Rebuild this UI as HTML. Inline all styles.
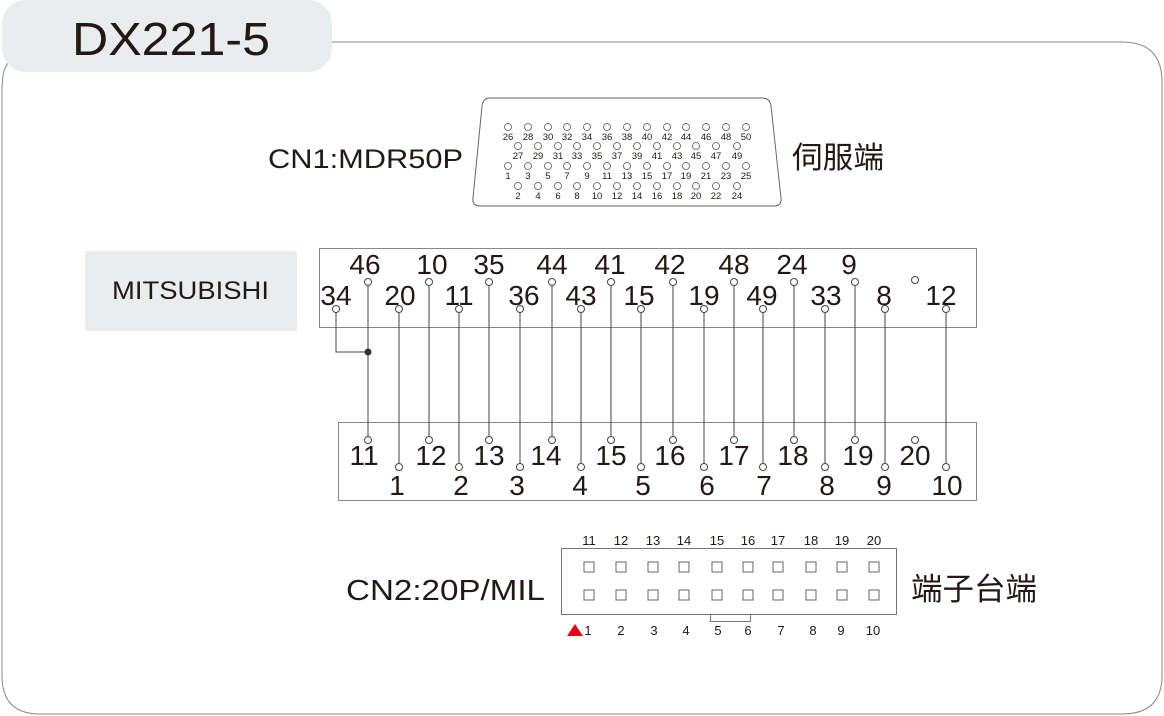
<!DOCTYPE html>
<html><head><meta charset="utf-8"><style>
html,body{margin:0;padding:0;background:#fff;}
svg{display:block;}
text{font-family:"Liberation Sans","Noto Sans CJK SC",sans-serif;fill:#231815;}
</style></head><body>
<svg width="1164" height="716" viewBox="0 0 1164 716" xmlns="http://www.w3.org/2000/svg">
<path d="M332,42 H1122 Q1162,42 1162,82 V676 Q1162,714 1122,714 H40 Q2,714 2,676 V90 Q2,66 10,62" fill="none" stroke="#888" stroke-width="1"/>
<rect x="2" y="0" width="330" height="72" rx="24" fill="#e9edee"/>
<text x="72" y="55" font-size="46" textLength="198" lengthAdjust="spacingAndGlyphs">DX221-5</text>

<text x="268" y="168" font-size="27" textLength="195" lengthAdjust="spacingAndGlyphs">CN1:MDR50P</text>
<text x="792" y="168" font-size="30" textLength="92" lengthAdjust="spacingAndGlyphs">伺服端</text>
<path d="M490,98 H762 Q770,98 771,106 L781,198 Q782,206 774,206 H480 Q472,206 473,198 L482,106 Q483,98 490,98 Z" fill="none" stroke="#666" stroke-width="1"/>
<g fill="none" stroke="#555" stroke-width="0.8">
<circle cx="508" cy="127" r="3.5"/><circle cx="528" cy="127" r="3.5"/><circle cx="548" cy="127" r="3.5"/><circle cx="567" cy="127" r="3.5"/><circle cx="587" cy="127" r="3.5"/><circle cx="607" cy="127" r="3.5"/><circle cx="627" cy="127" r="3.5"/><circle cx="647" cy="127" r="3.5"/><circle cx="667" cy="127" r="3.5"/><circle cx="686" cy="127" r="3.5"/><circle cx="706" cy="127" r="3.5"/><circle cx="726" cy="127" r="3.5"/><circle cx="746" cy="127" r="3.5"/>
<circle cx="518" cy="146" r="3.5"/><circle cx="538" cy="146" r="3.5"/><circle cx="558" cy="146" r="3.5"/><circle cx="577" cy="146" r="3.5"/><circle cx="597" cy="146" r="3.5"/><circle cx="617" cy="146" r="3.5"/><circle cx="637" cy="146" r="3.5"/><circle cx="657" cy="146" r="3.5"/><circle cx="677" cy="146" r="3.5"/><circle cx="696" cy="146" r="3.5"/><circle cx="716" cy="146" r="3.5"/><circle cx="737" cy="146" r="3.5"/>
<circle cx="508" cy="166" r="3.5"/><circle cx="528" cy="166" r="3.5"/><circle cx="548" cy="166" r="3.5"/><circle cx="567" cy="166" r="3.5"/><circle cx="587" cy="166" r="3.5"/><circle cx="607" cy="166" r="3.5"/><circle cx="627" cy="166" r="3.5"/><circle cx="647" cy="166" r="3.5"/><circle cx="667" cy="166" r="3.5"/><circle cx="686" cy="166" r="3.5"/><circle cx="706" cy="166" r="3.5"/><circle cx="726" cy="166" r="3.5"/><circle cx="746" cy="166" r="3.5"/>
<circle cx="518" cy="186" r="3.5"/><circle cx="538" cy="186" r="3.5"/><circle cx="558" cy="186" r="3.5"/><circle cx="577" cy="186" r="3.5"/><circle cx="597" cy="186" r="3.5"/><circle cx="617" cy="186" r="3.5"/><circle cx="637" cy="186" r="3.5"/><circle cx="657" cy="186" r="3.5"/><circle cx="677" cy="186" r="3.5"/><circle cx="696" cy="186" r="3.5"/><circle cx="716" cy="186" r="3.5"/><circle cx="737" cy="186" r="3.5"/>
</g>
<g font-size="9.5" text-anchor="middle">
<text x="508" y="140">26</text><text x="528" y="140">28</text><text x="548" y="140">30</text><text x="567" y="140">32</text><text x="587" y="140">34</text><text x="607" y="140">36</text><text x="627" y="140">38</text><text x="647" y="140">40</text><text x="667" y="140">42</text><text x="686" y="140">44</text><text x="706" y="140">46</text><text x="726" y="140">48</text><text x="746" y="140">50</text>
<text x="518" y="159">27</text><text x="538" y="159">29</text><text x="558" y="159">31</text><text x="577" y="159">33</text><text x="597" y="159">35</text><text x="617" y="159">37</text><text x="637" y="159">39</text><text x="657" y="159">41</text><text x="677" y="159">43</text><text x="696" y="159">45</text><text x="716" y="159">47</text><text x="737" y="159">49</text>
<text x="508" y="179">1</text><text x="528" y="179">3</text><text x="548" y="179">5</text><text x="567" y="179">7</text><text x="587" y="179">9</text><text x="607" y="179">11</text><text x="627" y="179">13</text><text x="647" y="179">15</text><text x="667" y="179">17</text><text x="686" y="179">19</text><text x="706" y="179">21</text><text x="726" y="179">23</text><text x="746" y="179">25</text>
<text x="518" y="199">2</text><text x="538" y="199">4</text><text x="558" y="199">6</text><text x="577" y="199">8</text><text x="597" y="199">10</text><text x="617" y="199">12</text><text x="637" y="199">14</text><text x="657" y="199">16</text><text x="677" y="199">18</text><text x="696" y="199">20</text><text x="716" y="199">22</text><text x="737" y="199">24</text>
</g>

<rect x="85" y="251" width="212" height="80" fill="#e9edee"/>
<text x="112" y="299" font-size="25" textLength="157" lengthAdjust="spacingAndGlyphs">MITSUBISHI</text>
<rect x="319.5" y="248.5" width="657" height="79" fill="none" stroke="#888" stroke-width="1"/>
<rect x="338.5" y="422.5" width="638" height="78" fill="none" stroke="#888" stroke-width="1"/>

<g stroke="#444" stroke-width="1" fill="none">
<path d="M336,313 V352 H368"/>
<line x1="368" y1="286" x2="368" y2="436"/>
<line x1="399" y1="313" x2="399" y2="463"/>
<line x1="429" y1="286" x2="429" y2="436"/>
<line x1="459" y1="313" x2="459" y2="463"/>
<line x1="489" y1="286" x2="489" y2="436"/>
<line x1="520" y1="313" x2="520" y2="463"/>
<line x1="552" y1="286" x2="552" y2="436"/>
<line x1="581" y1="313" x2="581" y2="463"/>
<line x1="611" y1="286" x2="611" y2="436"/>
<line x1="641" y1="313" x2="641" y2="463"/>
<line x1="673" y1="286" x2="673" y2="436"/>
<line x1="704" y1="313" x2="704" y2="463"/>
<line x1="734" y1="286" x2="734" y2="436"/>
<line x1="763" y1="313" x2="763" y2="463"/>
<line x1="794" y1="286" x2="794" y2="436"/>
<line x1="825" y1="313" x2="825" y2="463"/>
<line x1="855" y1="286" x2="855" y2="436"/>
<line x1="885" y1="313" x2="885" y2="463"/>
<line x1="946" y1="313" x2="946" y2="463"/>
</g>
<circle cx="368" cy="352" r="3.5" fill="#333"/>
<g fill="#fff" stroke="#444" stroke-width="1">
<circle cx="368" cy="282" r="3.5"/><circle cx="429" cy="282" r="3.5"/><circle cx="489" cy="282" r="3.5"/><circle cx="552" cy="282" r="3.5"/><circle cx="611" cy="282" r="3.5"/><circle cx="673" cy="282" r="3.5"/><circle cx="734" cy="282" r="3.5"/><circle cx="794" cy="282" r="3.5"/><circle cx="855" cy="282" r="3.5"/><circle cx="915" cy="280" r="3.5"/>
<circle cx="336" cy="309" r="3.5"/><circle cx="399" cy="309" r="3.5"/><circle cx="459" cy="309" r="3.5"/><circle cx="520" cy="309" r="3.5"/><circle cx="581" cy="309" r="3.5"/><circle cx="641" cy="309" r="3.5"/><circle cx="704" cy="309" r="3.5"/><circle cx="763" cy="309" r="3.5"/><circle cx="825" cy="309" r="3.5"/><circle cx="885" cy="309" r="3.5"/><circle cx="946" cy="309" r="3.5"/>
<circle cx="368" cy="440" r="3.5"/><circle cx="429" cy="440" r="3.5"/><circle cx="489" cy="440" r="3.5"/><circle cx="552" cy="440" r="3.5"/><circle cx="611" cy="440" r="3.5"/><circle cx="673" cy="440" r="3.5"/><circle cx="734" cy="440" r="3.5"/><circle cx="794" cy="440" r="3.5"/><circle cx="855" cy="440" r="3.5"/><circle cx="915" cy="440" r="3.5"/>
<circle cx="399" cy="467" r="3.5"/><circle cx="459" cy="467" r="3.5"/><circle cx="520" cy="467" r="3.5"/><circle cx="581" cy="467" r="3.5"/><circle cx="641" cy="467" r="3.5"/><circle cx="704" cy="467" r="3.5"/><circle cx="763" cy="467" r="3.5"/><circle cx="825" cy="467" r="3.5"/><circle cx="885" cy="467" r="3.5"/><circle cx="946" cy="467" r="3.5"/>
</g>
<g font-size="28" text-anchor="middle">
<text x="365" y="274">46</text><text x="432" y="274">10</text><text x="489" y="274">35</text><text x="552" y="274">44</text><text x="610" y="274">41</text><text x="670" y="274">42</text><text x="734" y="274">48</text><text x="792" y="274">24</text><text x="849" y="274">9</text>
<text x="336" y="305">34</text><text x="400" y="305">20</text><text x="459" y="305">11</text><text x="524" y="305">36</text><text x="581" y="305">43</text><text x="639" y="305">15</text><text x="704" y="305">19</text><text x="762" y="305">49</text><text x="826" y="305">33</text><text x="884" y="305">8</text><text x="941" y="305">12</text>
<text x="364" y="465">11</text><text x="431" y="465">12</text><text x="489" y="465">13</text><text x="546" y="465">14</text><text x="611" y="465">15</text><text x="670" y="465">16</text><text x="734" y="465">17</text><text x="793" y="465">18</text><text x="858" y="465">19</text><text x="915" y="465">20</text>
<text x="397" y="495">1</text><text x="461" y="495">2</text><text x="517" y="495">3</text><text x="580" y="495">4</text><text x="643" y="495">5</text><text x="707" y="495">6</text><text x="764" y="495">7</text><text x="827" y="495">8</text><text x="884" y="495">9</text><text x="947" y="495">10</text>
</g>

<text x="346" y="600" font-size="29" textLength="199" lengthAdjust="spacingAndGlyphs">CN2:20P/MIL</text>
<text x="911" y="600" font-size="31" textLength="126" lengthAdjust="spacingAndGlyphs">端子台端</text>
<rect x="561.5" y="548.5" width="335" height="66" fill="none" stroke="#777" stroke-width="1"/>
<rect x="710.5" y="614.5" width="40" height="7" fill="none" stroke="#777" stroke-width="1"/>
<g fill="none" stroke="#666" stroke-width="1">
<rect x="584" y="562" width="10" height="10"/><rect x="616" y="562" width="10" height="10"/><rect x="648" y="562" width="10" height="10"/><rect x="679" y="562" width="10" height="10"/><rect x="712" y="562" width="10" height="10"/><rect x="743" y="562" width="10" height="10"/><rect x="773" y="562" width="10" height="10"/><rect x="806" y="562" width="10" height="10"/><rect x="837" y="562" width="10" height="10"/><rect x="869" y="562" width="10" height="10"/>
<rect x="584" y="590" width="10" height="10"/><rect x="616" y="590" width="10" height="10"/><rect x="648" y="590" width="10" height="10"/><rect x="679" y="590" width="10" height="10"/><rect x="712" y="590" width="10" height="10"/><rect x="743" y="590" width="10" height="10"/><rect x="773" y="590" width="10" height="10"/><rect x="806" y="590" width="10" height="10"/><rect x="837" y="590" width="10" height="10"/><rect x="869" y="590" width="10" height="10"/>
</g>
<g font-size="13" text-anchor="middle">
<text x="589" y="545">11</text><text x="621" y="545">12</text><text x="653" y="545">13</text><text x="684" y="545">14</text><text x="717" y="545">15</text><text x="748" y="545">16</text><text x="778" y="545">17</text><text x="811" y="545">18</text><text x="842" y="545">19</text><text x="874" y="545">20</text>
<text x="588" y="635">1</text><text x="621" y="635">2</text><text x="654" y="635">3</text><text x="686" y="635">4</text><text x="718" y="635">5</text><text x="748" y="635">6</text><text x="781" y="635">7</text><text x="813" y="635">8</text><text x="841" y="635">9</text><text x="873" y="635">10</text>
</g>
<polygon points="567,636 575,624 583,636" fill="#e60012"/>
</svg>
</body></html>
